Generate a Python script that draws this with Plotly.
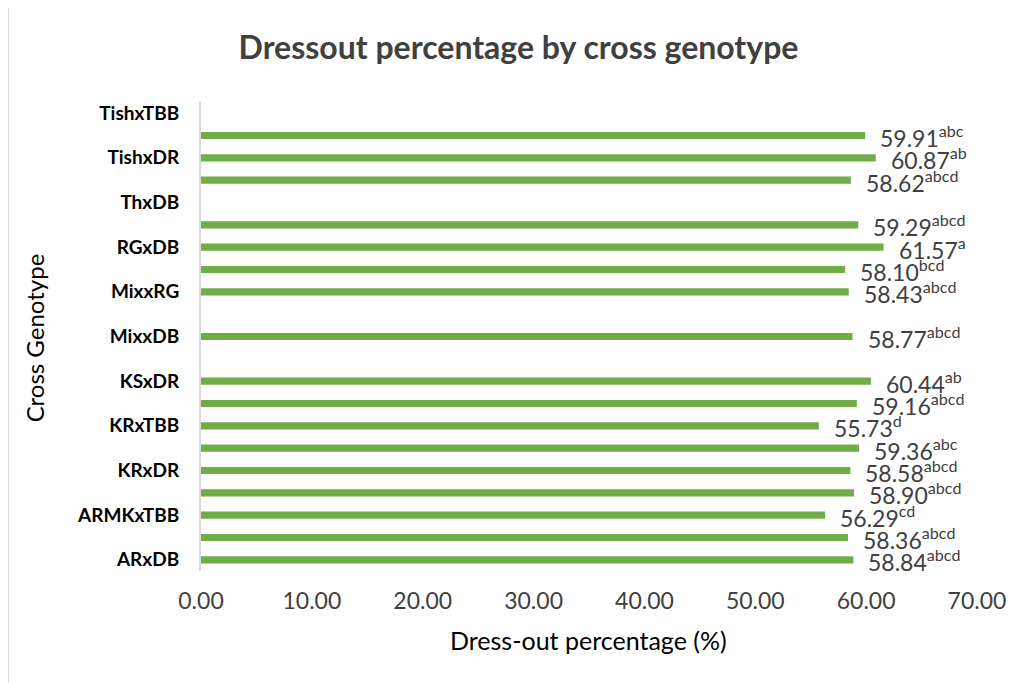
import plotly.graph_objects as go

# Category slots from bottom (0) to top (20); only every other slot is labelled on the axis
tick_slots = [0, 2, 4, 6, 8, 10, 12, 14, 16, 18, 20]
tick_labels = ["ARxDB", "ARMKxTBB", "KRxDR", "KRxTBB", "KSxDR", "MixxDB",
               "MixxRG", "RGxDB", "ThxDB", "TishxDR", "TishxTBB"]

slots = list(range(21))
dressout = [58.84, 58.36, 56.29, 58.90, 58.58, 59.36, 55.73, 59.16, 60.44, None,
            58.77, None, 58.43, 58.10, 61.57, 59.29, None, 58.62, 60.87, 59.91, None]
letters = ["abcd", "abcd", "cd", "abcd", "abcd", "abc", "d", "abcd", "ab", None,
           "abcd", None, "abcd", "bcd", "a", "abcd", None, "abcd", "ab", "abc", None]

FONT = "Lato"
GREEN = "#70AD47"
GREY = "#404040"

fig = go.Figure()
fig.add_trace(go.Bar(
    x=dressout, y=slots, orientation="h", width=0.32,
    marker=dict(color=GREEN, line=dict(width=0)),
    hoverinfo="skip",
))

annotations = []
for s, v, l in zip(slots, dressout, letters):
    if v is None:
        continue
    annotations.append(dict(
        x=v, y=s, xref="x", yref="y", xanchor="left", yanchor="middle",
        text=f"{v:.2f}<sup>{l}</sup>", showarrow=False,
        xshift=13, yshift=-1,
        font=dict(family=FONT, size=23, color=GREY),
    ))

annotations.append(dict(
    x=0.499, y=-0.147, xref="paper", yref="paper", xanchor="center", yanchor="middle",
    text="Dress-out percentage (%)", showarrow=False,
    font=dict(family=FONT, size=25, color="#000000"),
))
annotations.append(dict(
    x=-0.214, y=0.498, xref="paper", yref="paper", xanchor="center", yanchor="middle",
    text="Cross Genotype", showarrow=False, textangle=-90,
    font=dict(family=FONT, size=24, color="#000000"),
))

fig.update_layout(
    width=1020, height=683,
    margin=dict(l=193, r=51, t=94, b=120, autoexpand=False),
    paper_bgcolor="white", plot_bgcolor="white",
    showlegend=False,
    title=dict(text="<b>Dressout percentage by cross genotype</b>",
               x=0.5005, xanchor="center", y=0.9414, yanchor="middle",
               font=dict(family=FONT, size=32, color=GREY)),
    xaxis=dict(range=[0, 70], tickvals=[0, 10, 20, 30, 40, 50, 60, 70],
               tickformat=".2f", showgrid=False, zeroline=False, showline=False,
               ticks="", automargin=False, ticklabelstandoff=14,
               tickfont=dict(family=FONT, size=23, color=GREY)),
    yaxis=dict(range=[-0.5, 20.5], tickvals=tick_slots, ticktext=tick_labels,
               showgrid=False, zeroline=False, showline=True, linecolor="#D9D9D9",
               linewidth=2, ticks="", ticklabelstandoff=16, automargin=False,
               tickfont=dict(family=FONT, size=19, color="#000000", weight="bold")),
    annotations=annotations,
    shapes=[
        dict(type="line", xref="paper", yref="paper", x0=-0.2487, x1=1.07,
             y0=1.2026, y1=1.2026, line=dict(color="#D9D9D9", width=2)),
        dict(type="line", xref="paper", yref="paper", x0=-0.2487, x1=-0.2487,
             y0=1.2026, y1=-0.26, line=dict(color="#D9D9D9", width=2)),
    ],
)

fig.write_html("out.html")
